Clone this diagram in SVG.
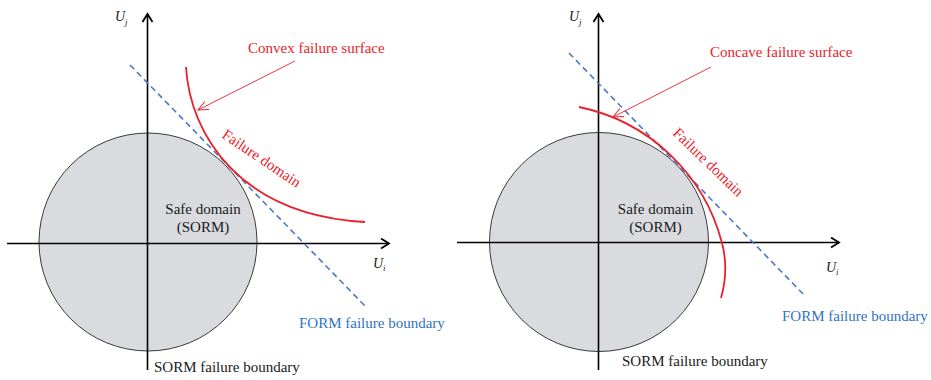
<svg xmlns="http://www.w3.org/2000/svg" width="931" height="380" viewBox="0 0 931 380">
<defs>
<style>
.ax{stroke:#000;stroke-width:1.6;fill:none}
.circ{fill:#d9dbdf;stroke:#3a3a3a;stroke-width:1}
.form{stroke:#4f78c2;stroke-width:1.6;stroke-dasharray:6 4;fill:none}
.surf{stroke:#e8222b;stroke-width:1.8;fill:none}
.ptr{stroke:#e8222b;stroke-width:0.9;fill:none}
.t{font-family:"Liberation Serif","Times New Roman",serif;font-size:15px}
.blk{fill:#1a1a1a}
.red{fill:#e8222b}
.blue{fill:#2f74c0}
.u{font-family:"Liberation Serif","Times New Roman",serif;font-style:italic;fill:#1a1a1a}
</style>
<marker id="axArrow" markerUnits="userSpaceOnUse" markerWidth="14" markerHeight="14" refX="9" refY="6" orient="auto">
<path d="M1,1 L9,6 L1,11" fill="none" stroke="#000" stroke-width="1.8"/>
</marker>
<marker id="redArrow" markerUnits="userSpaceOnUse" markerWidth="14" markerHeight="14" refX="10" refY="6" orient="auto">
<path d="M0,1.5 L10,6 L0,10.5" fill="none" stroke="#e8222b" stroke-width="1"/>
</marker>
</defs>

<g id="left-panel">
<g id="left-safe-domain">
<circle class="circ" cx="148" cy="242" r="109"/>
<text class="t blk" x="203" y="214" text-anchor="middle">Safe domain</text>
<text class="t blk" x="203" y="232" text-anchor="middle">(SORM)</text>
</g>
<g id="left-axes">
<line class="ax" x1="7" y1="243.5" x2="389" y2="243.5" marker-end="url(#axArrow)"/>
<line class="ax" x1="147.5" y1="370" x2="147.5" y2="14" marker-end="url(#axArrow)"/>
<text class="u" x="115" y="21" font-size="14">U</text>
<text class="u" x="125" y="24.5" font-size="9">j</text>
<text class="u" x="373" y="268" font-size="14">U</text>
<text class="u" x="383" y="271" font-size="9">i</text>
</g>
<g id="left-form">
<line class="form" x1="130" y1="65" x2="367" y2="308"/>
<text class="t blue" x="299" y="328">FORM failure boundary</text>
</g>
<g id="left-surface">
<path class="surf" d="M186,67 C190,135 240,215 365,222"/>
<text class="t red" transform="translate(221,137) rotate(34)">Failure domain</text>
</g>
<g id="left-label">
<text class="t red" x="248" y="53">Convex failure surface</text>
</g>
<text class="t blk" x="154" y="372">SORM failure boundary</text>
</g>

<g id="right-panel">
<g id="right-safe-domain">
<circle class="circ" cx="599" cy="242" r="109.5"/>
<text class="t blk" x="655.5" y="214" text-anchor="middle">Safe domain</text>
<text class="t blk" x="655.5" y="232" text-anchor="middle">(SORM)</text>
</g>
<g id="right-axes">
<line class="ax" x1="457" y1="242.5" x2="839" y2="242.5" marker-end="url(#axArrow)"/>
<line class="ax" x1="598.5" y1="370" x2="598.5" y2="14" marker-end="url(#axArrow)"/>
<text class="u" x="569" y="21" font-size="14">U</text>
<text class="u" x="579" y="24.5" font-size="9">j</text>
<text class="u" x="826" y="272" font-size="14">U</text>
<text class="u" x="836" y="275" font-size="9">i</text>
</g>
<g id="right-form">
<line class="form" x1="569" y1="53" x2="806" y2="297"/>
<text class="t blue" x="782" y="321">FORM failure boundary</text>
</g>
<g id="right-surface">
<path class="surf" d="M579,107 A186.5,186.5 0 0 1 722,243 Q729,270 721,298"/>
<text class="t red" transform="translate(672,134) rotate(44)">Failure domain</text>
</g>
<g id="right-label">
<text class="t red" x="710" y="57">Concave failure surface</text>
</g>
<text class="t blk" x="622" y="366">SORM failure boundary</text>
</g>

<g id="connectors">
<line class="ptr" x1="295" y1="61" x2="198" y2="110" marker-end="url(#redArrow)"/>
<line class="ptr" x1="711" y1="67" x2="613" y2="117" marker-end="url(#redArrow)"/>
</g>
</svg>
